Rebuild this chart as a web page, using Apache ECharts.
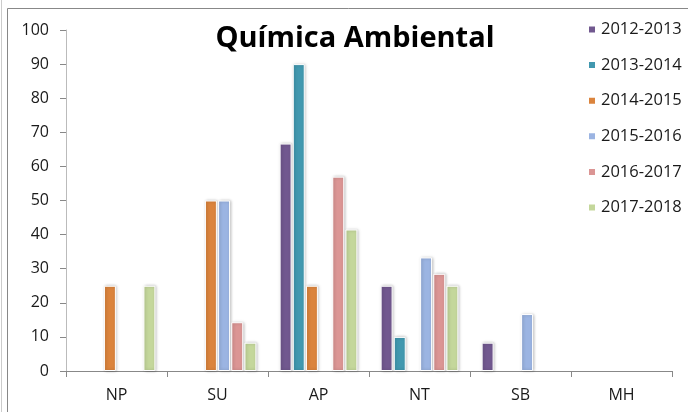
<!DOCTYPE html>
<html><head><meta charset="utf-8">
<script src="https://cdn.jsdelivr.net/npm/echarts@6/dist/echarts.min.js"></script>
<style>html,body{margin:0;padding:0;background:#fff}#c{width:688px;height:412px}</style>
</head><body><div id="c"></div>
<script>
const categories = ['NP','SU','AP','NT','SB','MH'];
const seriesNames = ['2012-2013','2013-2014','2014-2015','2015-2016','2016-2017','2017-2018'];
const s2012 = [null, null, 66.7, 25, 8.3, null];
const s2013 = [null, null, 90, 10, null, null];
const s2014 = [25, 50, 25, null, null, null];
const s2015 = [null, 50, null, 33.3, 16.7, null];
const s2016 = [null, 14.3, 57, 28.5, null, null];
const s2017 = [25, 8.3, 41.5, 25, null, null];
const yTicks = [0,10,20,30,40,50,60,70,80,90,100];
const colors = ['#71588F','#4198AF','#DB843D','#9BB4E2','#DB9594','#C4D79B'];
const allData = [s2012,s2013,s2014,s2015,s2016,s2017];

const chart = echarts.init(document.getElementById('c'));
const font = 'Open Sans';
chart.setOption({
  animation:false,
  color: colors,
  title:{text:'Química Ambiental', left:355, top:24, textAlign:'center', padding:0,
    textStyle:{fontFamily:font, fontWeight:'bold', fontSize:29, color:'#000'}},
  legend:{orient:'vertical', left:587, top:21, padding:0, itemWidth:8, itemHeight:8, itemGap:18.6,
    icon:'rect', textStyle:{fontFamily:font, fontSize:16.5, color:'#1a1a1a', lineHeight:16},
    data:seriesNames},
  graphic:[
    {type:'rect', shape:{x:7.5,y:8.5,width:700,height:420}, style:{fill:'none', stroke:'#888', lineWidth:1}},
    {type:'line', shape:{x1:1.5,y1:0,x2:1.5,y2:412}, style:{stroke:'#ccc', lineWidth:1}}
  ],
  grid:{left:66, top:30, right:16, bottom:41, containLabel:false},
  xAxis:{type:'category', data:categories,
    axisLine:{lineStyle:{color:'#888', width:1}},
    axisTick:{show:true, length:6, lineStyle:{color:'#888'}},
    axisLabel:{fontFamily:font, fontSize:16, color:'#1a1a1a', margin:16}},
  yAxis:{type:'value', min:0, max:100, interval:10,
    axisLine:{show:true, lineStyle:{color:'#bbb'}},
    axisTick:{show:true, length:6, inside:false, lineStyle:{color:'#888'}},
    splitLine:{show:false},
    axisLabel:{fontFamily:font, fontSize:16, color:'#1a1a1a', margin:17,
      formatter: v => yTicks.includes(v) ? String(v) : ''}},
  series: seriesNames.map((n,i)=>({
    name:n, type:'bar', data:allData[i],
    barGap:'10%', barCategoryGap:'23%',
    itemStyle:{borderColor:'#fff', borderWidth:1, shadowColor:'rgba(0,0,0,0.25)', shadowBlur:3, shadowOffsetX:1}
  }))
});
</script></body></html>
